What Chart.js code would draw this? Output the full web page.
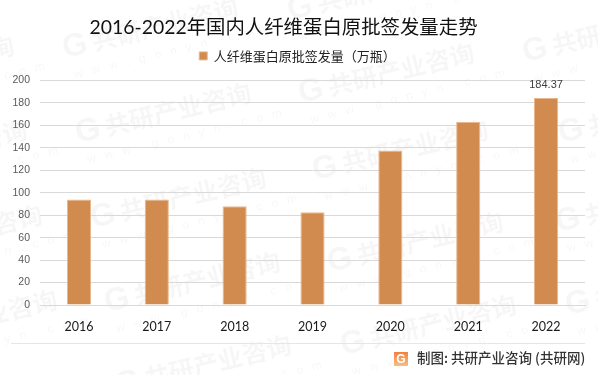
<!DOCTYPE html>
<html>
<head>
<meta charset="utf-8">
<style>
  html, body { margin: 0; padding: 0; background: #fff; }
  #box { width: 598px; height: 375px; }
</style>
<script src="https://cdn.jsdelivr.net/npm/chart.js@4/dist/chart.umd.min.js"></script>
</head>
<body>
<div id="box"><canvas id="chart1"></canvas></div>
<script>
  var years = ['2016', '2017', '2018', '2019', '2020', '2021', '2022'];
  var seriesName = '人纤维蛋白原批签发量（万瓶）';
  var counts = [94, 94, 88, 82.5, 137.5, 163, 184.37];
  var titleText = '2016-2022年国内人纤维蛋白原批签发量走势';
  var footerText = '制图: 共研产业咨询 (共研网)';
  var markText = '共研产业咨询';
  var markSite = 'w w w . g o n y n . c o m';
  // left end of each watermark line
  var markSpots = [[-159, 96], [-146, 180], [-131, 265], [-116, 350], [65, 58], [78, 143], [93, 228], [107, 312], [118, 395],
    [290, 20], [301, 103], [315, 180], [330, 272], [343, 355], [525, 62], [561, 143], [558, 232], [568, 315]];

  var cjk = '"Noto Sans CJK SC"';

  var extras = {
    id: 'extras',
    beforeInit: function (chart) {
      // more room under the legend without moving it
      var fit = chart.legend.fit;
      chart.legend.fit = function () {
        fit.call(this);
        this.height += 8;
      };
    },
    afterLayout: function (chart) {
      // title and legend are both off the page centre in the reference
      chart.titleBlock.left = -18;
      chart.legend.left = 10;
    },
    beforeDraw: function (chart) {
      var c = chart.ctx;
      c.save();
      c.fillStyle = '#fff';
      c.fillRect(0, 0, chart.width, chart.height);
      c.textAlign = 'left';
      c.textBaseline = 'alphabetic';
      markSpots.forEach(function (p) {
        c.save();
        c.translate(p[0], p[1]);
        c.rotate(-13.5 * Math.PI / 180);
        c.fillStyle = 'rgba(0,0,0,0.035)';
        c.font = 'bold 32px "Liberation Sans"';
        c.fillText('G', 0, 0);
        c.font = 'bold 25px ' + cjk;
        c.fillText(markText, 30, 0);
        c.font = '12px "Liberation Sans"';
        c.letterSpacing = '3px';
        c.fillText(markSite, 5, 22);
        c.restore();
      });
      c.restore();
    },
    afterDraw: function (chart) {
      var c = chart.ctx;
      c.save();
      // value label, only the last bar has one
      var last = counts.length - 1;
      var bar = chart.getDatasetMeta(0).data[last];
      c.fillStyle = '#404040';
      c.font = '11px "Liberation Sans"';
      c.textAlign = 'center';
      c.textBaseline = 'middle';
      c.fillText(String(counts[last]), bar.x, bar.y - 13);
      // rule above the source line
      c.strokeStyle = '#e6e6e6';
      c.beginPath();
      c.moveTo(11, 343.5);
      c.lineTo(585, 343.5);
      c.stroke();
      // source logo
      var g = c.createLinearGradient(0, 352, 0, 366);
      g.addColorStop(0, '#f2803f');
      g.addColorStop(1, '#fbbd80');
      c.fillStyle = g;
      c.fillRect(394, 352, 14, 14);
      c.fillStyle = '#fff';
      c.font = 'bold 12px "Liberation Sans"';
      c.fillText('G', 401, 359.5);
      // source text
      c.fillStyle = '#333';
      c.font = '500 13.5px ' + cjk;
      c.textAlign = 'left';
      c.fillText(footerText, 417, 358);
      c.restore();
    }
  };

  new Chart(document.getElementById('chart1'), {
    type: 'bar',
    data: {
      labels: years,
      datasets: [
        {
          label: seriesName,
          data: counts,
          backgroundColor: '#d28b4e',
          borderColor: '#e9b68e',
          borderWidth: 1,
          barPercentage: 0.31,
          categoryPercentage: 1
        }
      ]
    },
    options: {
      responsive: true,
      maintainAspectRatio: false,
      animation: false,
      layout: { padding: { top: 0, bottom: 0, left: 0, right: 13 } },
      plugins: {
        title: {
          display: true,
          text: titleText,
          color: '#111',
          font: { family: 'Lato,' + cjk, size: 19.4, weight: 'normal', lineHeight: 1 },
          padding: { top: 18, bottom: 0 }
        },
        legend: {
          display: true,
          labels: {
            boxWidth: 8,
            boxHeight: 8,
            padding: 12,
            color: '#222',
            font: { family: cjk, size: 13 }
          }
        },
        tooltip: { enabled: false }
      },
      scales: {
        x: {
          grid: { display: false },
          border: { color: '#d9d9d9' },
          afterFit: function (s) { s.height = 70; },
          ticks: {
            maxRotation: 0,
            padding: 6,
            color: '#1a1a1a',
            font: { family: 'Lato', size: 12.5 }
          }
        },
        y: {
          min: 0,
          max: 200,
          afterFit: function (s) { s.width = 40; },
          grid: { color: '#d9d9d9', drawTicks: false },
          border: { display: false },
          ticks: {
            stepSize: 20,
            padding: 10,
            color: '#595959',
            font: { family: 'Liberation Sans', size: 10.5 }
          }
        }
      }
    },
    plugins: [extras]
  });
</script>
</body>
</html>
